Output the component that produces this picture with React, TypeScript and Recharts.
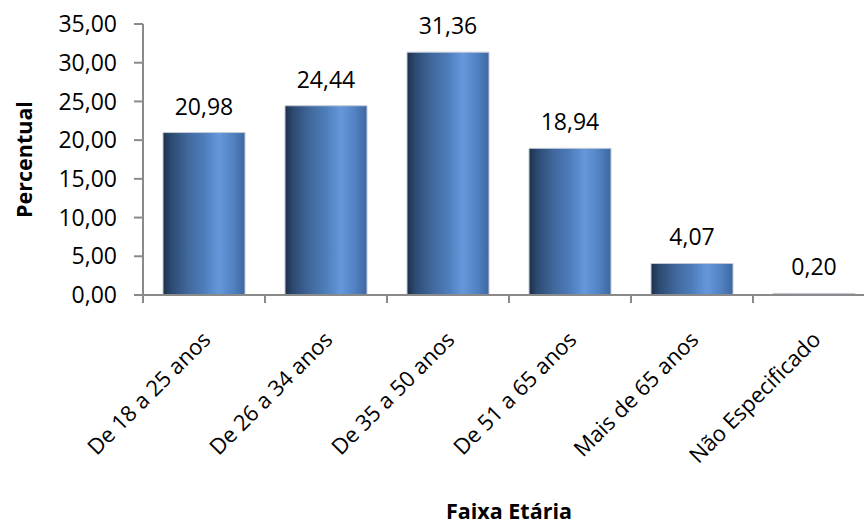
import * as React from "react";
import { BarChart, Bar, XAxis, YAxis, LabelList, Label } from "recharts";

const categories = [
  "De 18 a 25 anos",
  "De 26 a 34 anos",
  "De 35 a 50 anos",
  "De 51 a 65 anos",
  "Mais de 65 anos",
  "Não Especificado",
];
const percentual = [20.98, 24.44, 31.36, 18.94, 4.07, 0.2];
const yTicks = [0, 5, 10, 15, 20, 25, 30, 35];

const data = categories.map((faixa, i) => ({ faixa, percentual: percentual[i] }));

const FONT = "'Open Sans', sans-serif";
const AXIS = "#8a8a8a";

const fmt = (v: number) => Number(v).toFixed(2).replace(".", ",");

function CategoryTick(props: any) {
  const { x, y, payload } = props;
  const half = payload?.offset ?? 61;
  return (
    <g>
      <line x1={x - half} y1={y} x2={x - half} y2={y + 8} stroke={AXIS} strokeWidth={2} />
      <g transform={`translate(${x + 8}, ${y + 46})`}>
        <text
          textAnchor="end"
          transform="rotate(-45)"
          fontFamily={FONT}
          fontSize={22}
          fill="#000"
        >
          {payload.value}
        </text>
      </g>
    </g>
  );
}

export default function App() {
  return (
    <div
      style={{
        position: "fixed",
        top: 0,
        left: 0,
        width: 864,
        height: 525,
        overflow: "hidden",
        background: "#fff",
      }}
    >
      <BarChart
        width={900}
        height={525}
        data={data}
        margin={{ top: 24, right: 25, left: 0, bottom: 0 }}
        barCategoryGap={20}
      >
        <defs>
          <linearGradient id="barGrad" x1="0" y1="0" x2="1" y2="0">
            <stop offset="0%" stopColor="#1e2f48" />
            <stop offset="10%" stopColor="#2c4a72" />
            <stop offset="30%" stopColor="#40689c" />
            <stop offset="50%" stopColor="#4d7dbb" />
            <stop offset="68%" stopColor="#6598db" />
            <stop offset="86%" stopColor="#5181c1" />
            <stop offset="100%" stopColor="#3d679f" />
          </linearGradient>
        </defs>
        <XAxis
          dataKey="faixa"
          height={230}
          interval={0}
          tickLine={false}
          tickSize={0}
          tickMargin={0}
          axisLine={{ stroke: AXIS, strokeWidth: 2 }}
          tick={<CategoryTick />}
        >
          <Label
            content={(p: any) => {
              const vb = p.viewBox || { x: 143, y: 295, width: 732, height: 230 };
              return (
                <text
                  x={vb.x + vb.width / 2}
                  y={vb.y + vb.height - 6}
                  textAnchor="middle"
                  fontFamily={FONT}
                  fontSize={21.5}
                  fontWeight="bold"
                  fill="#000"
                >
                  Faixa Etária
                </text>
              );
            }}
          />
        </XAxis>
        <YAxis
          width={143}
          domain={[0, 35]}
          ticks={yTicks}
          interval={0}
          tickSize={9}
          tickMargin={17}
          tickFormatter={fmt}
          tick={{ fontFamily: FONT, fontSize: 23, fill: "#000" }}
          tickLine={{ stroke: AXIS, strokeWidth: 2 }}
          axisLine={{ stroke: AXIS, strokeWidth: 2 }}
        >
          <Label
            content={(p: any) => {
              const vb = p.viewBox || { x: 0, y: 24, width: 143, height: 271 };
              const cx = 32;
              const cy = vb.y + vb.height / 2;
              return (
                <text
                  x={cx}
                  y={cy}
                  textAnchor="middle"
                  transform={`rotate(-90, ${cx}, ${cy})`}
                  fontFamily={FONT}
                  fontSize={21.5}
                  fontWeight="bold"
                  fill="#000"
                >
                  Percentual
                </text>
              );
            }}
          />
        </YAxis>
        <Bar
          dataKey="percentual"
          fill="url(#barGrad)"
          stroke="#c4cbd6"
          strokeWidth={1}
          isAnimationActive={false}
        >
          <LabelList
            dataKey="percentual"
            position="top"
            offset={18}
            formatter={(v: any) => fmt(v)}
            style={{ fontFamily: FONT, fontSize: 23, fill: "#000" }}
          />
        </Bar>
      </BarChart>
    </div>
  );
}
